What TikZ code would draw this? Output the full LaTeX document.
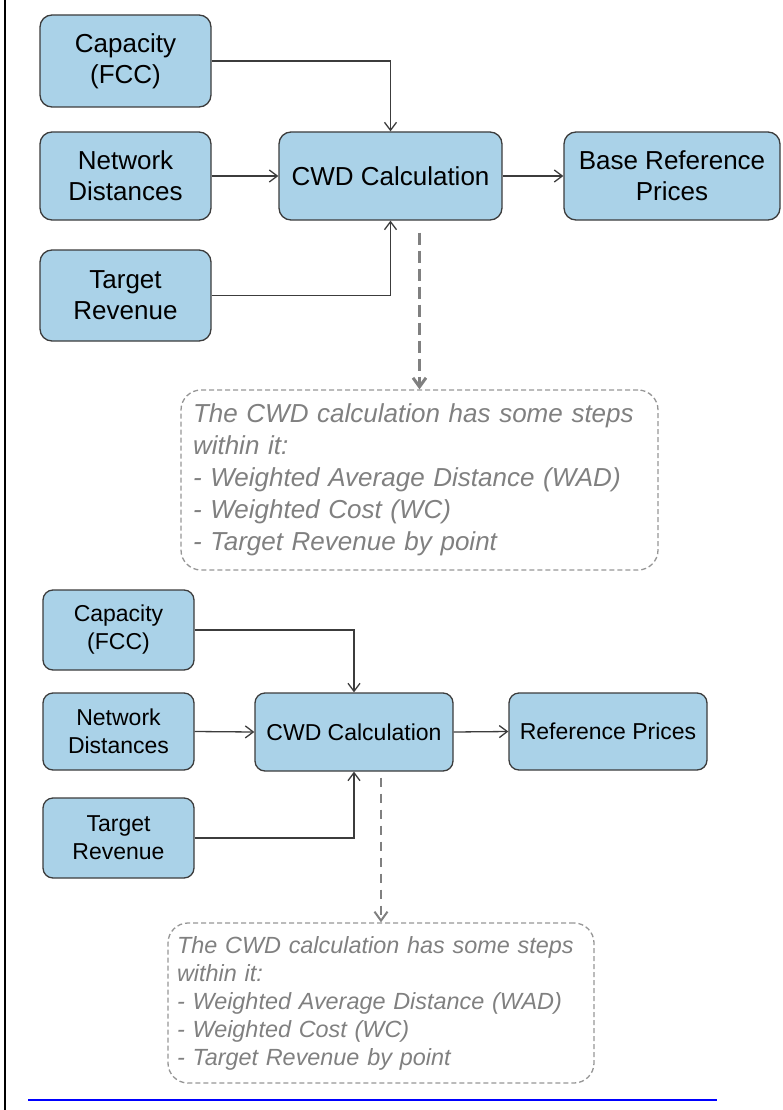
\documentclass[tikz,border=0pt]{standalone}
\usepackage{fontspec}
\setmainfont{Liberation Sans}
\usetikzlibrary{arrows.meta,calc}
\definecolor{boxfill}{RGB}{170,210,232}
\definecolor{boxline}{RGB}{60,60,60}
\definecolor{notegrey}{RGB}{128,128,128}
\definecolor{noteline}{RGB}{150,150,150}
\tikzset{
  box/.style={draw=boxline, line width=1.3pt, fill=boxfill, rounded corners=12pt,
    align=center, inner sep=0pt, text=black},
  bigtext/.style={font=\fontsize{26}{31}\selectfont},
  smalltext/.style={font=\fontsize{23}{28}\selectfont},
  flow/.style={draw=boxline, line width=1.3pt, -{Straight Barb[length=8pt,width=12pt]}},
  note/.style={draw=noteline, line width=1.3pt, dash pattern=on 5pt off 3pt,
    rounded corners=20pt, text=notegrey, align=left, inner sep=0pt},
  link/.style={draw=notegrey, -{Straight Barb[length=9pt,width=13pt]}}
}
\begin{document}
\begin{tikzpicture}[x=1pt,y=-1pt]
\useasboundingbox (0,0) rectangle (782,1110);

% page rules
\draw[line width=2.5pt] (5,0) -- (5,1110);
\draw[blue, line width=2.5pt] (28,1100) -- (717,1100);

% ---- upper flow ----
\node[box,bigtext,minimum width=171pt,minimum height=92pt] (capA) at (125.5,61) {Capacity\\(FCC)};
\node[box,bigtext,minimum width=171pt,minimum height=88pt] (netA) at (125.5,176) {Network\\Distances};
\node[box,bigtext,minimum width=171pt,minimum height=91pt] (tgtA) at (125.5,295.5) {Target\\Revenue};
\node[box,bigtext,minimum width=223pt,minimum height=88pt] (cwdA) at (390.5,176) {CWD Calculation};
\node[box,bigtext,minimum width=216pt,minimum height=88pt] (baseA) at (672,176) {Base Reference\\Prices};
\node[note,font=\itshape\fontsize{26}{32}\selectfont,minimum width=477pt,minimum height=180pt,text width=453pt] (noteA) at (419.5,480)
  {The CWD calculation has some steps\\within it:\\- Weighted Average Distance (WAD)\\- Weighted Cost (WC)\\- Target Revenue by point};

\draw[flow] (capA.east) -| (cwdA.north);
\draw[flow] (netA.east) -- (cwdA.west);
\draw[flow] (tgtA.east) -| (cwdA.south);
\draw[flow] (cwdA.east) -- (baseA.west);
\coordinate (dA) at ($(cwdA.south)+(0,12)$);
\draw[link, line width=3pt, dash pattern=on 12pt off 6pt] (dA -| noteA.north) -- (noteA.north);

% ---- lower flow ----
\node[box,smalltext,rounded corners=10pt,minimum width=151pt,minimum height=80pt] (capB) at (118.5,630) {Capacity\\(FCC)};
\node[box,smalltext,rounded corners=10pt,minimum width=151pt,minimum height=77pt] (netB) at (118.5,731.5) {Network\\Distances};
\node[box,smalltext,rounded corners=10pt,minimum width=151pt,minimum height=80pt] (tgtB) at (118.5,838) {Target\\Revenue};
\node[box,smalltext,rounded corners=10pt,minimum width=198pt,minimum height=78pt] (cwdB) at (354,732) {CWD Calculation};
\node[box,smalltext,rounded corners=10pt,minimum width=198pt,minimum height=77pt] (refB) at (608,731.5) {Reference Prices};
\node[note,font=\itshape\fontsize{23.4}{28}\selectfont,minimum width=426pt,minimum height=160pt,text width=408pt] (noteB) at (381,1003)
  {The CWD calculation has some steps\\within it:\\- Weighted Average Distance (WAD)\\- Weighted Cost (WC)\\- Target Revenue by point};

\draw[flow] (capB.east) -| (cwdB.north);
\draw[flow] (netB.east) -- (cwdB.west);
\draw[flow] (tgtB.east) -| (cwdB.south);
\draw[flow] (cwdB.east) -- (refB.west);
\coordinate (dB) at ($(cwdB.south)+(0,6)$);
\draw[link, line width=2pt, dash pattern=on 9pt off 7pt] (dB -| noteB.north) -- (noteB.north);
\end{tikzpicture}
\end{document}
